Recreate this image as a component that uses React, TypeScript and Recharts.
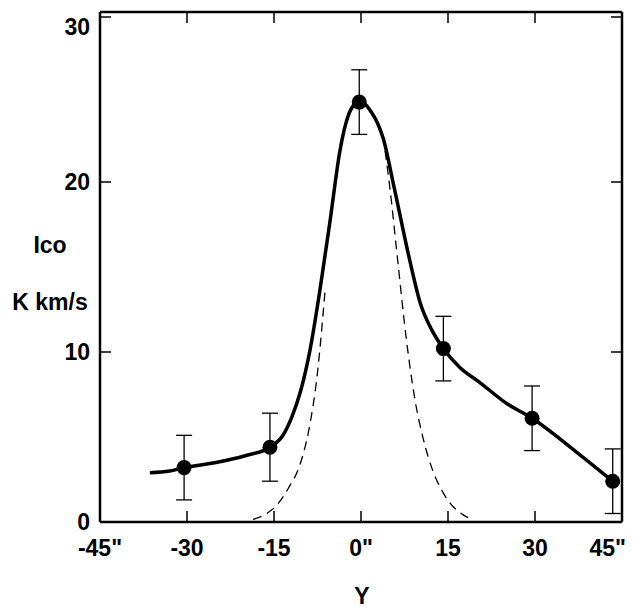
import React from 'react';
import { ComposedChart, Line, Scatter, ErrorBar, XAxis, YAxis } from 'recharts';

// measured points with error bars
const pointX = [-30.5, -15.7, -0.3, 14.2, 29.5, 43.4];
const pointY = [3.2, 4.4, 24.7, 10.2, 6.1, 2.4];
const pointErr = [1.9, 2.0, 1.9, 1.9, 1.9, 1.9];

// thick fitted curve
const curveX = [-36.4, -33, -30.5, -25, -20, -15.7, -13.45, -11.9, -10.5, -8.8, -7.1, -5.3, -3.6, -2.2, -1.3, -0.3, 0.6, 1.8, 2.8, 3.8, 5.7, 8.4, 10.2, 12.2, 14.2, 17, 20.5, 25, 29.5, 37.2, 43.4];
const curveY = [2.9, 3.0, 3.2, 3.5, 3.9, 4.4, 5.1, 6.2, 7.6, 10.1, 13.6, 17.8, 21.9, 23.9, 24.5, 24.7, 24.6, 24.1, 23.5, 22.6, 19.7, 15.4, 12.9, 11.3, 10.2, 9.1, 8.2, 7.0, 6.1, 4.1, 2.4];

// dashed beam profile, left and right parts
const beamLeftX = [-18.6, -16.5, -14.5, -12.5, -10.5, -9.0, -7.5, -6.2];
const beamLeftY = [0.15, 0.45, 1.0, 2.0, 3.4, 5.4, 8.8, 13.6];
const beamRightX = [3.8, 5.0, 6.2, 7.8, 9.3, 10.8, 12.4, 14.2, 15.9, 17.5, 19.1];
const beamRightY = [22.7, 19.6, 15.8, 10.8, 7.2, 4.8, 3.0, 1.7, 0.9, 0.45, 0.15];

const xTicks = [-45, -30, -15, 0, 15, 30, 45];
const xTickLabels = ['-45"', '-30', '-15', '0"', '15', '30', '45"'];
const yTicks = [0, 10, 20, 30];

const points = pointX.map((x, i) => ({ x, y: pointY[i], err: pointErr[i] }));
const curve = curveX.map((x, i) => ({ x, y: curveY[i] }));
const beamLeft = beamLeftX.map((x, i) => ({ x, y: beamLeftY[i] }));
const beamRight = beamRightX.map((x, i) => ({ x, y: beamRightY[i] }));

const font = '"Liberation Sans", Arial, sans-serif';
const TICK = 11;
const FS = 23;

const BottomTick = (props: any) => {
  const { x, y, payload } = props;
  const idx = xTicks.indexOf(payload.value);
  const last = idx === xTicks.length - 1;
  return (
    <g>
      <line x1={x} y1={y} x2={x} y2={y - TICK} stroke="#000" strokeWidth={1.5} />
      <text
        x={last ? x + 4 : x}
        y={y + 34}
        textAnchor={last ? 'end' : 'middle'}
        fontFamily={font}
        fontWeight="bold"
        fontSize={FS}
        fill="#000"
      >
        {xTickLabels[idx]}
      </text>
    </g>
  );
};

const TopTick = (props: any) => {
  const { x, y } = props;
  return <line x1={x} y1={y} x2={x} y2={y + TICK} stroke="#000" strokeWidth={1.5} />;
};

const LeftTick = (props: any) => {
  const { x, y, payload } = props;
  const top = payload.value === 30;
  return (
    <g>
      <line x1={x} y1={y} x2={x + TICK} y2={y} stroke="#000" strokeWidth={1.5} />
      <text x={x - 10} y={top ? y + 18 : y + 8} textAnchor="end" fontFamily={font} fontWeight="bold" fontSize={FS} fill="#000">
        {payload.value}
      </text>
    </g>
  );
};

const RightTick = (props: any) => {
  const { x, y } = props;
  return <line x1={x} y1={y} x2={x - TICK} y2={y} stroke="#000" strokeWidth={1.5} />;
};

const Dot = (props: any) => {
  const { cx, cy } = props;
  return <circle cx={cx} cy={cy} r={7.5} fill="#000" />;
};

const axisLine = { stroke: '#000', strokeWidth: 2.5 };

const labelStyle: React.CSSProperties = {
  position: 'absolute',
  fontFamily: font,
  fontWeight: 'bold',
  fontSize: FS,
  color: '#000',
  transform: 'translate(-50%, -50%)',
  whiteSpace: 'nowrap',
};

export default function App() {
  return (
    <div style={{ position: 'relative', width: 625, height: 599 }}>
      <ComposedChart width={625} height={599} margin={{ top: 3, right: 10, bottom: 25, left: 32 }}>
        <XAxis
          xAxisId="b"
          type="number"
          dataKey="x"
          domain={[-45, 45]}
          ticks={xTicks}
          allowDataOverflow
          height={60}
          tickSize={0}
          tickMargin={0}
          tickLine={false}
          axisLine={axisLine}
          tick={<BottomTick />}
        />
        <XAxis
          xAxisId="t"
          orientation="top"
          type="number"
          dataKey="x"
          domain={[-45, 45]}
          ticks={xTicks}
          allowDataOverflow
          height={1}
          tickSize={0}
          tickMargin={0}
          tickLine={false}
          axisLine={axisLine}
          tick={<TopTick />}
        />
        <YAxis
          yAxisId="l"
          type="number"
          domain={[0, 30]}
          ticks={yTicks}
          allowDataOverflow
          width={60}
          tickSize={0}
          tickMargin={0}
          tickLine={false}
          axisLine={axisLine}
          tick={<LeftTick />}
        />
        <YAxis
          yAxisId="r"
          orientation="right"
          type="number"
          domain={[0, 30]}
          ticks={yTicks}
          allowDataOverflow
          width={1}
          tickSize={0}
          tickMargin={0}
          tickLine={false}
          axisLine={axisLine}
          tick={<RightTick />}
        />
        <Line
          xAxisId="b"
          yAxisId="l"
          data={beamLeft}
          dataKey="y"
          type="monotone"
          stroke="#000"
          strokeWidth={1.3}
          strokeDasharray="9 6"
          dot={false}
          isAnimationActive={false}
        />
        <Line
          xAxisId="b"
          yAxisId="l"
          data={beamRight}
          dataKey="y"
          type="monotone"
          stroke="#000"
          strokeWidth={1.3}
          strokeDasharray="9 6"
          dot={false}
          isAnimationActive={false}
        />
        <Line
          xAxisId="b"
          yAxisId="l"
          data={curve}
          dataKey="y"
          type="monotone"
          stroke="#000"
          strokeWidth={3.5}
          dot={false}
          isAnimationActive={false}
        />
        <Scatter
          xAxisId="b"
          yAxisId="l"
          data={points}
          dataKey="y"
          shape={<Dot />}
          isAnimationActive={false}
        >
          <ErrorBar dataKey="err" direction="y" width={8} stroke="#000" strokeWidth={1.3} />
        </Scatter>
      </ComposedChart>
      <div style={{ ...labelStyle, left: 42, top: 237 }}>Ico</div>
      <div style={{ ...labelStyle, left: 42, top: 294 }}>K km/s</div>
      <div style={{ ...labelStyle, left: 354, top: 588 }}>Y</div>
    </div>
  );
}
